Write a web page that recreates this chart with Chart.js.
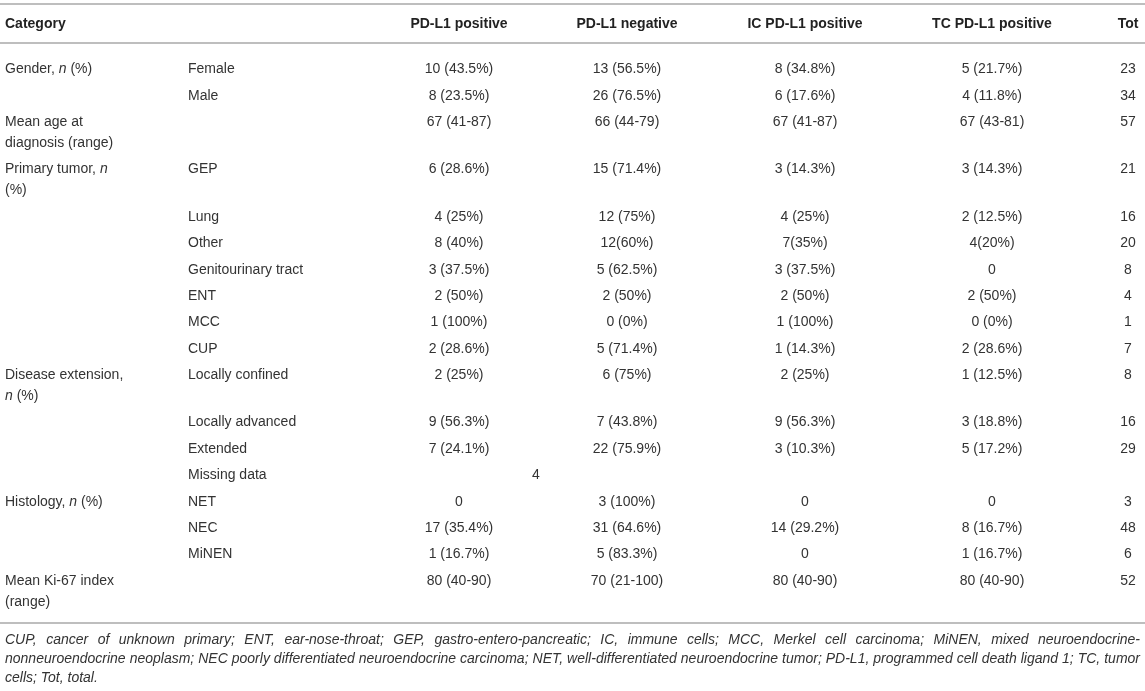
<!DOCTYPE html>
<html>
<head>
<meta charset="utf-8">
<title>PD-L1 expression by patient characteristics</title>
<script src="https://cdn.jsdelivr.net/npm/chart.js@4.4.1/dist/chart.umd.min.js"></script>
<style>
    html, body { margin: 0; padding: 0; background: #fff; }
    #wrap { width: 1145px; height: 691px; }
</style>
</head>
<body>
<div id="wrap"><canvas id="tableChart" width="1145" height="691"></canvas></div>
<script>
// Table content, one array per column (_n_ = italic n, \n = line break in the cell)
const headers = ['Category', '', 'PD-L1 positive', 'PD-L1 negative', 'IC PD-L1 positive', 'TC PD-L1 positive', 'Tot'];

const categories = [
    'Gender, _n_ (%)', '',
    'Mean age at\ndiagnosis (range)',
    'Primary tumor, _n_\n(%)', '', '', '', '', '', '',
    'Disease extension,\n_n_ (%)', '', '', '',
    'Histology, _n_ (%)', '', '',
    'Mean Ki-67 index\n(range)'
];

const subgroups = [
    'Female', 'Male', '',
    'GEP', 'Lung', 'Other', 'Genitourinary tract', 'ENT', 'MCC', 'CUP',
    'Locally confined', 'Locally advanced', 'Extended', 'Missing data',
    'NET', 'NEC', 'MiNEN', ''
];

const pdl1Positive = [
    '10 (43.5%)', '8 (23.5%)', '67 (41-87)',
    '6 (28.6%)', '4 (25%)', '8 (40%)', '3 (37.5%)', '2 (50%)', '1 (100%)', '2 (28.6%)',
    '2 (25%)', '9 (56.3%)', '7 (24.1%)', '4',
    '0', '17 (35.4%)', '1 (16.7%)', '80 (40-90)'
];

const pdl1Negative = [
    '13 (56.5%)', '26 (76.5%)', '66 (44-79)',
    '15 (71.4%)', '12 (75%)', '12(60%)', '5 (62.5%)', '2 (50%)', '0 (0%)', '5 (71.4%)',
    '6 (75%)', '7 (43.8%)', '22 (75.9%)', '',
    '3 (100%)', '31 (64.6%)', '5 (83.3%)', '70 (21-100)'
];

const icPositive = [
    '8 (34.8%)', '6 (17.6%)', '67 (41-87)',
    '3 (14.3%)', '4 (25%)', '7(35%)', '3 (37.5%)', '2 (50%)', '1 (100%)', '1 (14.3%)',
    '2 (25%)', '9 (56.3%)', '3 (10.3%)', '',
    '0', '14 (29.2%)', '0', '80 (40-90)'
];

const tcPositive = [
    '5 (21.7%)', '4 (11.8%)', '67 (43-81)',
    '3 (14.3%)', '2 (12.5%)', '4(20%)', '0', '2 (50%)', '0 (0%)', '2 (28.6%)',
    '1 (12.5%)', '3 (18.8%)', '5 (17.2%)', '',
    '0', '8 (16.7%)', '1 (16.7%)', '80 (40-90)'
];

const totals = [
    '23', '34', '57',
    '21', '16', '20', '8', '4', '1', '7',
    '8', '16', '29', '',
    '3', '48', '6', '52'
];

const footnoteLines = [
    'CUP, cancer of unknown primary; ENT, ear-nose-throat; GEP, gastro-entero-pancreatic; IC, immune cells; MCC, Merkel cell carcinoma; MiNEN, mixed neuroendocrine-',
    'nonneuroendocrine neoplasm; NEC poorly differentiated neuroendocrine carcinoma; NET, well-differentiated neuroendocrine tumor; PD-L1, programmed cell death ligand 1; TC, tumor',
    'cells; Tot, total.'
];

const columns = [categories, subgroups, pdl1Positive, pdl1Negative, icPositive, tcPositive, totals];

// Layout: column edges on the x scale, alignments, merged cells
const colEdges = [0, 183, 368, 550, 704, 906, 1078, 1178];
const leftAligned = [true, true, false, false, false, false, false];
const mergedCells = [{ row: 13, from: 2, to: 3 }]; // "Missing data" count spans positive + negative
const CELL_PAD = 5;
const EXTRA_LINE = 0.8; // a wrapped line takes 0.8 of a row slot

const FONT = '"Liberation Sans", Arial, Helvetica, sans-serif';
const BODY_FONT = '14px ' + FONT;
const ITALIC_FONT = 'italic 14px ' + FONT;
const HEAD_FONT = 'bold 14px ' + FONT;
const TEXT_COLOR = '#333333';
const RULE_COLOR = '#a8a8a8';

// Row positions on the y scale, wrapped cells push later rows down
const rowY = [];
(function() {
    let extra = 0;
    categories.forEach((c, i) => {
        rowY.push(i + extra);
        extra += (c.split('\n').length - 1) * EXTRA_LINE;
    });
})();

function anchorFor(col, row) {
    const merge = mergedCells.find(m => m.row === row && m.from === col);
    if (merge) return (colEdges[merge.from] + colEdges[merge.to + 1]) / 2;
    if (leftAligned[col]) return colEdges[col] + CELL_PAD;
    return (colEdges[col] + colEdges[col + 1]) / 2;
}

// Draw a string with _italic_ parts
function drawRich(ctx, str, px, py, align) {
    const parts = str.split('_');
    let total = 0;
    parts.forEach((p, k) => {
        ctx.font = k % 2 ? ITALIC_FONT : BODY_FONT;
        total += ctx.measureText(p).width;
    });
    let cx = align === 'center' ? px - total / 2 : px;
    ctx.textAlign = 'left';
    parts.forEach((p, k) => {
        ctx.font = k % 2 ? ITALIC_FONT : BODY_FONT;
        ctx.fillText(p, cx, py);
        cx += ctx.measureText(p).width;
    });
}

function drawJustified(ctx, line, left, right, py, justify) {
    ctx.textAlign = 'left';
    if (!justify) {
        ctx.fillText(line, left, py);
        return;
    }
    const words = line.split(' ');
    const wordsWidth = words.reduce((s, w) => s + ctx.measureText(w).width, 0);
    const gap = (right - left - wordsWidth) / (words.length - 1);
    let cx = left;
    words.forEach(w => {
        ctx.fillText(w, cx, py);
        cx += ctx.measureText(w).width + gap;
    });
}

const tablePlugin = {
    id: 'tablePlugin',
    afterDatasetsDraw(chart) {
        const { ctx, scales: { x, y } } = chart;
        const unit = Math.abs(y.getPixelForValue(1) - y.getPixelForValue(0));
        ctx.save();
        ctx.textBaseline = 'middle';

        // Horizontal rules
        const rule = (py) => {
            ctx.beginPath();
            ctx.moveTo(x.getPixelForValue(0), py);
            ctx.lineTo(x.getPixelForValue(1145), py);
            ctx.stroke();
        };
        ctx.strokeStyle = RULE_COLOR;
        ctx.lineWidth = 1.5;
        rule(y.getPixelForValue(y.min - 1.48));
        rule(y.getPixelForValue(y.min));
        rule(y.getPixelForValue(y.max));

        // Header row
        ctx.fillStyle = '#222222';
        ctx.font = HEAD_FONT;
        const headY = y.getPixelForValue(y.min - 0.72);
        headers.forEach((h, c) => {
            ctx.textAlign = leftAligned[c] ? 'left' : 'center';
            ctx.fillText(h, x.getPixelForValue(anchorFor(c, -1)), headY);
        });

        // Body cells, placed at each dataset point
        ctx.fillStyle = TEXT_COLOR;
        chart.data.datasets.forEach((ds, c) => {
            const meta = chart.getDatasetMeta(c);
            meta.data.forEach((el, i) => {
                const text = ds.cellText[i];
                if (!text) return;
                text.split('\n').forEach((line, k) => {
                    drawRich(ctx, line, el.x, el.y + k * EXTRA_LINE * unit, leftAligned[c] ? 'left' : 'center');
                });
            });
        });

        // Footnote under the table
        ctx.font = ITALIC_FONT;
        ctx.fillStyle = TEXT_COLOR;
        const footTop = y.getPixelForValue(y.max) + 17;
        footnoteLines.forEach((line, k) => {
            drawJustified(ctx, line, x.getPixelForValue(CELL_PAD), x.getPixelForValue(1140),
                footTop + k * 19, k < footnoteLines.length - 1);
        });
        ctx.restore();
    }
};

const ctx = document.getElementById('tableChart').getContext('2d');
const tableChart = new Chart(ctx, {
    type: 'scatter',
    data: {
        datasets: columns.map((col, c) => ({
            label: headers[c] || 'Subgroup',
            cellText: col,
            data: col.map((_, i) => ({ x: anchorFor(c, i), y: rowY[i] })),
            pointRadius: 0,
            pointHoverRadius: 0,
            showLine: false
        }))
    },
    options: {
        responsive: false,
        animation: false,
        layout: {
            padding: { top: 43, bottom: 68, left: 0, right: 0 }
        },
        scales: {
            x: { type: 'linear', min: 0, max: 1145, display: false },
            y: { type: 'linear', min: -1, max: 21, reverse: true, display: false }
        },
        plugins: {
            legend: { display: false },
            tooltip: { enabled: false }
        }
    },
    plugins: [tablePlugin]
});
</script>
</body>
</html>
